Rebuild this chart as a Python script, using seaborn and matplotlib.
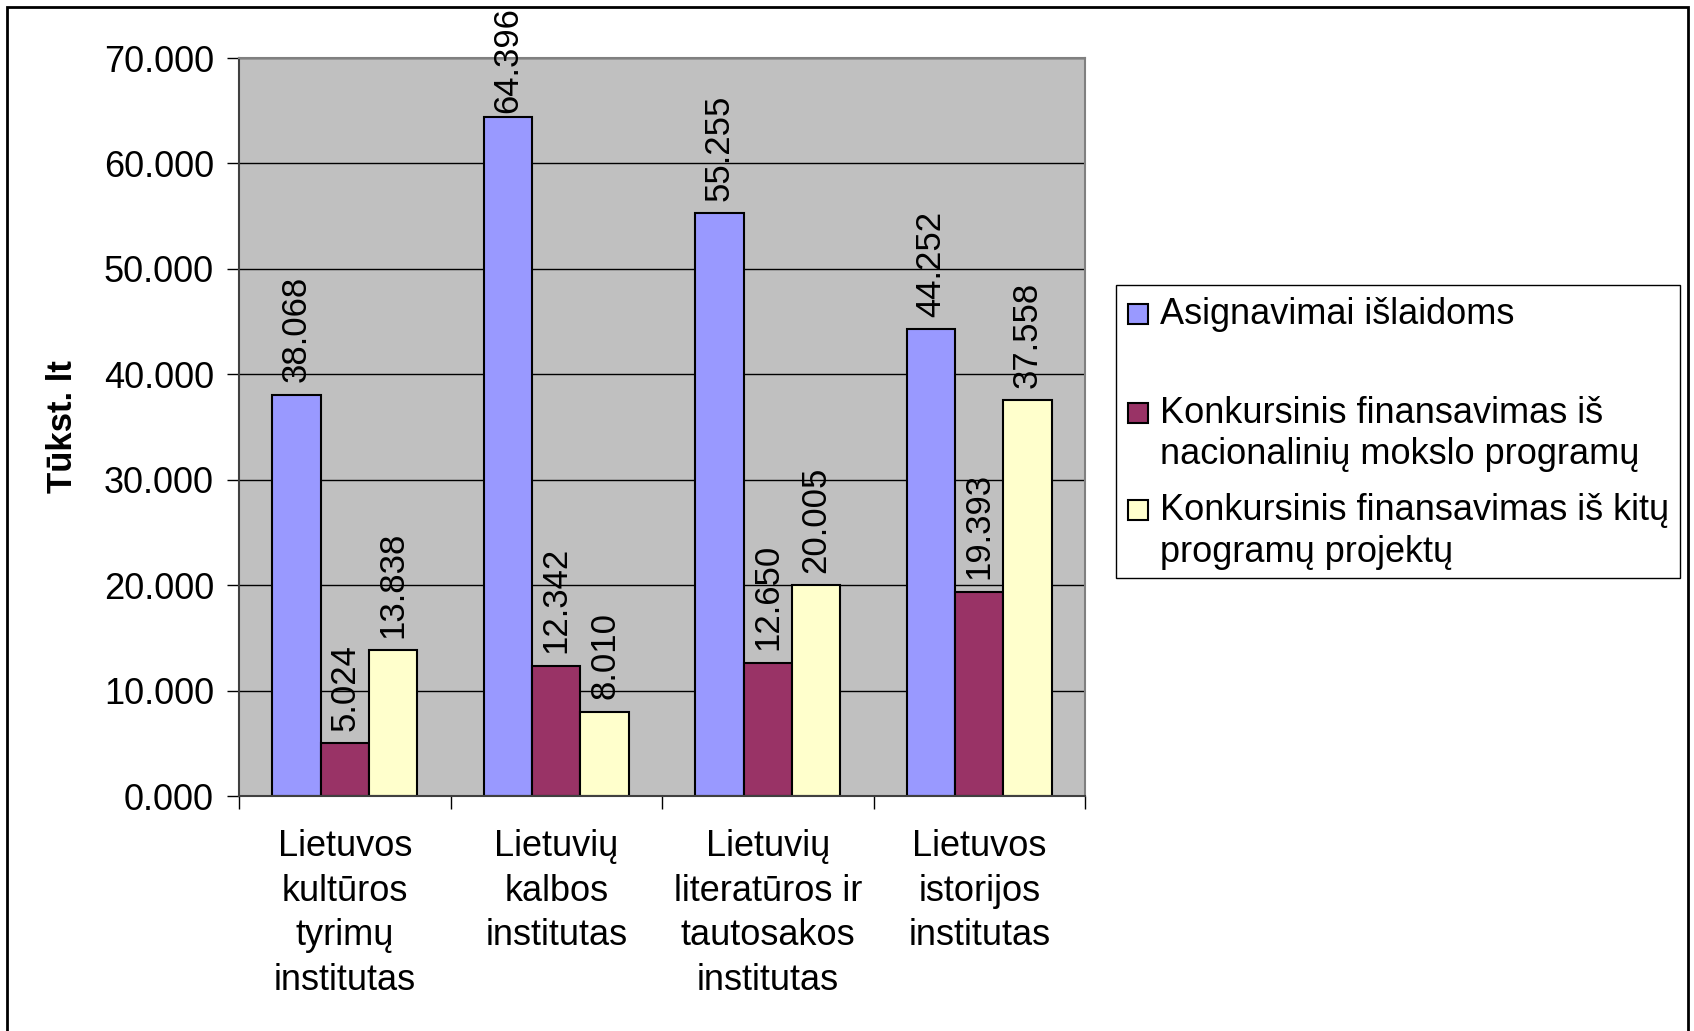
import seaborn as sns
import matplotlib.pyplot as plt
import pandas as pd
from matplotlib.patches import Rectangle
from matplotlib.ticker import FixedLocator, FuncFormatter

institutai = ["Lietuvos\nkultūros\ntyrimų\ninstitutas",
              "Lietuvių\nkalbos\ninstitutas",
              "Lietuvių\nliteratūros ir\ntautosakos\ninstitutas",
              "Lietuvos\nistorijos\ninstitutas"]
serijos = ["Asignavimai išlaidoms",
           "Konkursinis finansavimas iš\nnacionalinių mokslo programų",
           "Konkursinis finansavimas iš kitų\nprogramų projektų"]
asignavimai = [38068, 64396, 55255, 44252]
nacionalines = [5024, 12342, 12650, 19393]
kitos = [13838, 8010, 20005, 37558]
spalvos = ["#9999FF", "#993366", "#FFFFCC"]

df = pd.DataFrame({"institutas": institutai * 3,
                   "serija": [s for s in serijos for _ in institutai],
                   "suma": asignavimai + nacionalines + kitos})


def lt(v, pos=None):
    return f"{v:,.0f}".replace(",", ".") if v else "0.000"


sns.set_style("white")
plt.rcParams["font.family"] = ["Liberation Sans", "DejaVu Sans"]
plt.rcParams.update({"text.color": "black", "axes.labelcolor": "black",
                     "xtick.color": "black", "ytick.color": "black"})

W, H = 1694, 1031
fig = plt.figure(figsize=(W / 100, H / 100), dpi=100)
ax = fig.add_axes([239 / W, 1 - 796 / H, (1085 - 239) / W, (796 - 58) / H])
ax.set_facecolor("#C0C0C0")

sns.barplot(data=df, x="institutas", y="suma", hue="serija", palette=spalvos,
            width=0.685, edgecolor="black", linewidth=1.5, saturation=1,
            legend=False, ax=ax)

for c in ax.containers:
    texts = ax.bar_label(c, labels=[lt(b.get_height()) for b in c], rotation=90,
                         padding=9, fontsize=25, color="black")
    # excel pushes the label of the tallest bar down to keep it in the chart
    for b, t in zip(c, texts):
        if b.get_height() > 60000:
            t.xyann = (0, 3)

ax.set_ylim(0, 70000)
ax.set_xlim(-0.5, 3.5)
ax.yaxis.set_major_locator(FixedLocator(range(0, 70001, 10000)))
ax.yaxis.set_major_formatter(FuncFormatter(lt))
ax.grid(axis="y", color="black", linewidth=1)
ax.set_axisbelow(True)
ax.tick_params(axis="y", left=True, length=9, width=1, pad=9, labelsize=26)
ax.tick_params(axis="x", which="major", length=0, pad=24, labelsize=26)
ax.set_xticks([-0.5, 0.5, 1.5, 2.5, 3.5], minor=True)
ax.tick_params(axis="x", which="minor", bottom=True, length=9, width=1)
for lab in ax.get_xticklabels():
    lab.set_linespacing(1.35)
ax.set_xlabel("")
ax.set_ylabel("Tūkst. lt", fontsize=25, fontweight="bold", labelpad=18)
for s in ["top", "right"]:
    ax.spines[s].set_color("#808080")
    ax.spines[s].set_linewidth(1.5)
for s in ["left", "bottom"]:
    ax.spines[s].set_color("#404040")
    ax.spines[s].set_linewidth(1.5)

# legend box drawn in figure pixels
px = lambda x, y: (x / W, 1 - y / H)
fig.patches.append(Rectangle(px(1116, 578), (1680 - 1116) / W, (578 - 285) / H,
                             transform=fig.transFigure, fill=False,
                             edgecolor="black", linewidth=1))
rows = [[314], [413, 455], [510, 553]]
for ys, s, col in zip(rows, serijos, spalvos):
    fig.patches.append(Rectangle(px(1128, ys[0] + 10), 20 / W, 20 / H,
                                 transform=fig.transFigure, facecolor=col,
                                 edgecolor="black", linewidth=1.5))
    for y, line in zip(ys, s.split("\n")):
        fig.text(*px(1160, y), line, fontsize=26, va="center", ha="left")

# outer frame
fig.patches.append(Rectangle((7 / W, -0.01), (1688 - 7) / W, 1 - 7 / H + 0.01,
                             transform=fig.transFigure, fill=False,
                             edgecolor="black", linewidth=2))

fig.savefig("out.png", dpi=100)
